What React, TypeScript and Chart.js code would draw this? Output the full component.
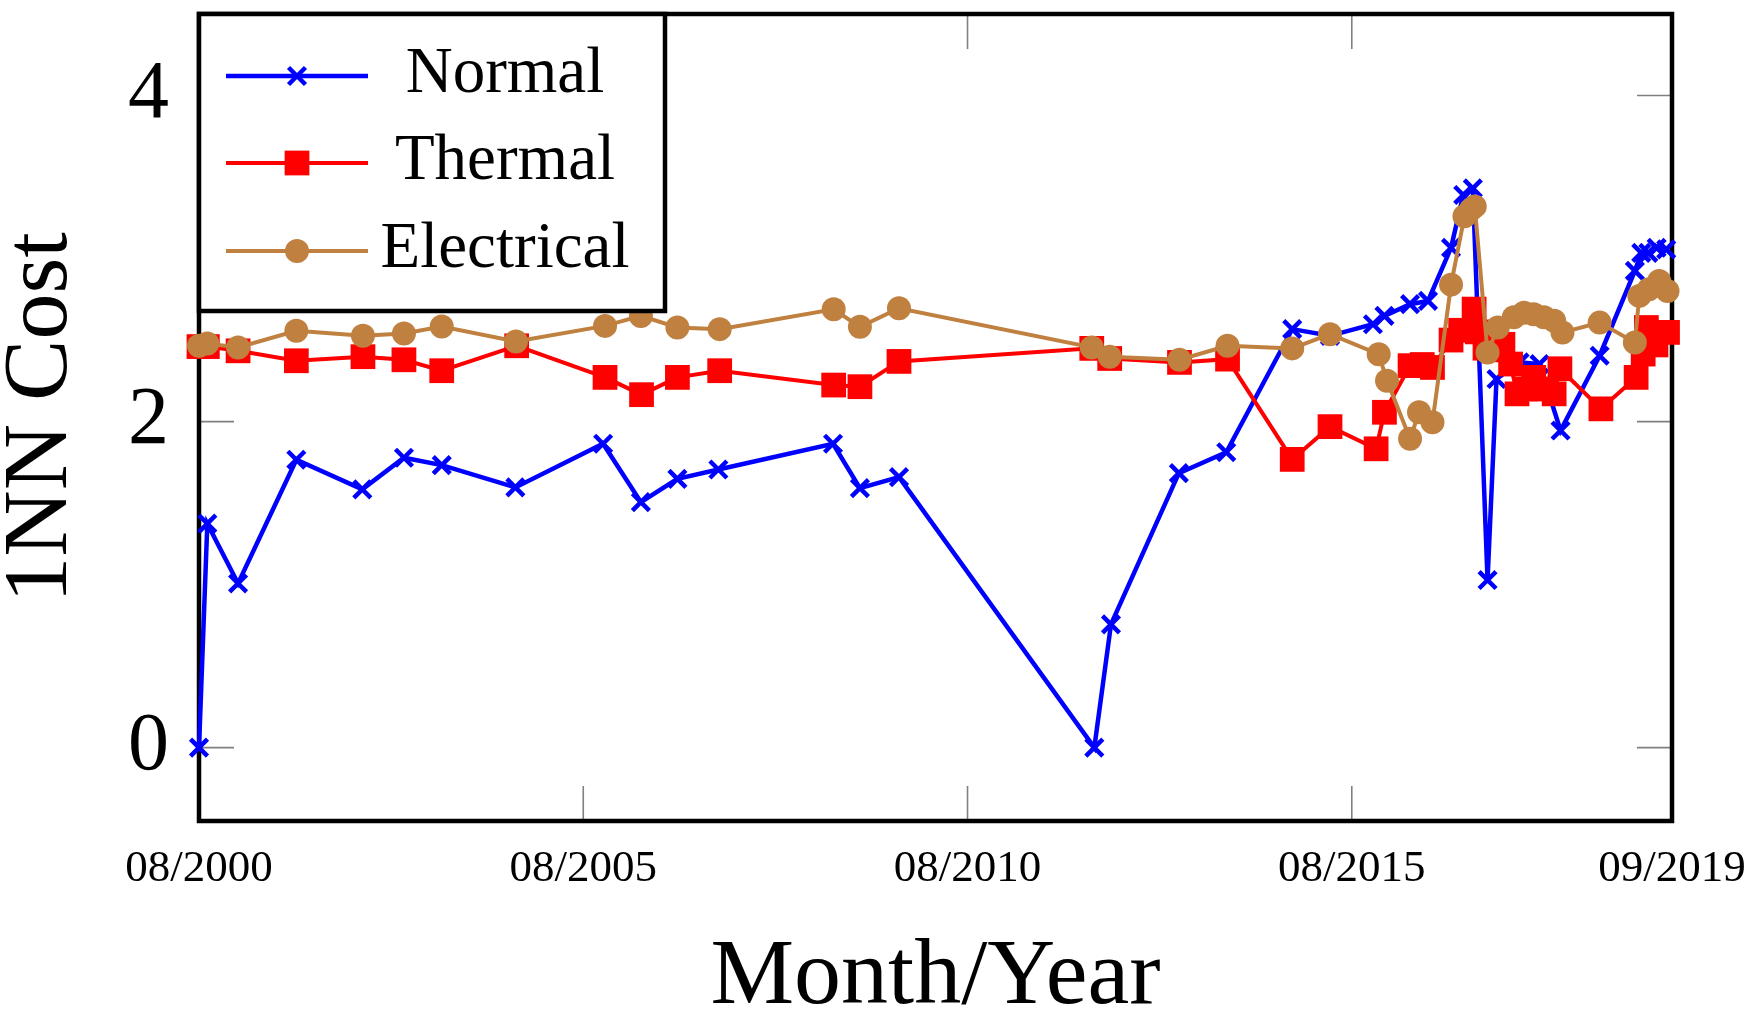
import React, { useEffect, useRef } from "react";
import { Chart, registerables } from "chart.js";

Chart.register(...registerables);

// ---- axis ticks ----
const xTickMonths = [0, 60, 120, 180, 230];
const xTickLabels = ["08/2000", "08/2005", "08/2010", "08/2015", "09/2019"];
const yTicks = [0, 2, 4];

// ---- series (x = months since 08/2000, y = 1NN cost) ----
const normalMonths = [
  0, 1.3, 6.1, 15.2, 25.5, 32.0, 37.9, 49.4, 63.1, 69.0, 74.7, 81.1, 99.0, 103.2, 109.3,
  139.8, 142.4, 153.0, 160.4, 170.7, 176.6, 183.3, 185.1, 189.1, 191.9, 195.5, 197.4, 198.9,
  201.2, 202.6, 206.2, 209.3, 212.6, 218.7, 224.2, 225.2, 226.3, 227.6, 229.1,
];
const normalCost = [
  0, 1.374, 1.007, 1.766, 1.584, 1.778, 1.733, 1.596, 1.864, 1.506, 1.649, 1.706, 1.864, 1.592, 1.659,
  0, 0.756, 1.684, 1.812, 2.567, 2.526, 2.597, 2.648, 2.72, 2.74, 3.066, 3.39, 3.43,
  1.028, 2.261, 2.363, 2.353, 1.945, 2.404, 2.924, 3.035, 3.035, 3.066, 3.056,
];

const thermalMonths = [
  0, 1.3, 6.1, 15.2, 25.6, 32.0, 37.9, 49.6, 63.4, 69.1, 74.7, 81.3, 99.1, 103.2, 109.3,
  139.4, 142.2, 153.1, 160.6, 170.7, 176.6, 183.8, 185.1, 189.1, 191.0, 192.6, 195.5, 197.0,
  199.1, 199.6, 200.8, 202.0, 203.6, 204.8, 205.8, 207.2, 208.4, 209.8, 211.6, 212.5, 218.9,
  224.4, 225.5, 226.0, 227.5, 229.3,
];
const thermalCost = [
  2.46, 2.46, 2.434, 2.373, 2.398, 2.379, 2.312, 2.465, 2.271, 2.165, 2.271, 2.312, 2.224, 2.214, 2.369,
  2.449, 2.387, 2.363, 2.383, 1.768, 1.969, 1.833, 2.057, 2.343, 2.35, 2.332, 2.5, 2.56,
  2.69, 2.55, 2.45, 2.44, 2.474, 2.353, 2.17, 2.2, 2.271, 2.2, 2.17, 2.324, 2.078,
  2.271, 2.414, 2.577, 2.47, 2.547,
];

const electricalMonths = [
  0, 1.3, 6.1, 15.2, 25.6, 32.0, 37.9, 49.5, 63.4, 69.0, 74.7, 81.3, 99.1, 103.2, 109.3,
  139.4, 142.2, 153.1, 160.6, 170.7, 176.6, 184.2, 185.5, 189.1, 190.5, 192.6, 195.5, 197.6,
  198.6, 199.2, 201.2, 202.8, 205.3, 206.9, 208.4, 210.0, 211.6, 212.9, 218.7, 224.2, 224.9,
  226.4, 228.0, 229.3,
];
const electricalCost = [
  2.465, 2.479, 2.455, 2.557, 2.526, 2.54, 2.583, 2.491, 2.587, 2.648, 2.577, 2.567, 2.689, 2.581, 2.695,
  2.455, 2.398, 2.379, 2.465, 2.449, 2.536, 2.413, 2.251, 1.894, 2.057, 1.996, 2.84, 3.26,
  3.3, 3.32, 2.424, 2.577, 2.64, 2.668, 2.658, 2.64, 2.618, 2.547, 2.607, 2.485, 2.771,
  2.811, 2.862, 2.801,
];

const FONT = "'Liberation Serif', 'Times New Roman', serif";
const BLUE = "#0000ff";
const RED = "#ff0000";
const BROWN = "#bf8040";

const toPoints = (xs: number[], ys: number[]) => xs.map((x, i) => ({ x, y: ys[i] }));

function drawMarker(ctx: CanvasRenderingContext2D, style: string, x: number, y: number, r: number, color: string, bw: number) {
  ctx.save();
  ctx.fillStyle = color;
  ctx.strokeStyle = color;
  ctx.lineWidth = bw;
  if (style === "circle") {
    ctx.beginPath();
    ctx.arc(x, y, r, 0, Math.PI * 2);
    ctx.fill();
  } else if (style === "rect") {
    const s = Math.SQRT1_2 * r;
    ctx.fillRect(x - s, y - s, 2 * s, 2 * s);
  } else {
    const o = Math.SQRT1_2 * r;
    ctx.beginPath();
    ctx.moveTo(x - o, y - o);
    ctx.lineTo(x + o, y + o);
    ctx.moveTo(x - o, y + o);
    ctx.lineTo(x + o, y - o);
    ctx.stroke();
  }
  ctx.restore();
}

const framePlugin = {
  id: "frameAndLegend",
  beforeDatasetsDraw(chart: any) {
    const { ctx, chartArea: a, scales } = chart;
    ctx.save();
    ctx.strokeStyle = "#808080";
    ctx.lineWidth = 1.6;
    const L = 35;
    for (const v of xTickMonths) {
      const px = scales.x.getPixelForValue(v);
      if (px <= a.left + 2 || px >= a.right - 2) continue;
      ctx.beginPath();
      ctx.moveTo(px, a.bottom);
      ctx.lineTo(px, a.bottom - L);
      ctx.moveTo(px, a.top);
      ctx.lineTo(px, a.top + L);
      ctx.stroke();
    }
    for (const v of yTicks) {
      const py = scales.y.getPixelForValue(v);
      ctx.beginPath();
      ctx.moveTo(a.left, py);
      ctx.lineTo(a.left + L, py);
      ctx.moveTo(a.right, py);
      ctx.lineTo(a.right - L, py);
      ctx.stroke();
    }
    ctx.strokeStyle = "#000";
    ctx.lineWidth = 4.5;
    ctx.strokeRect(a.left, a.top, a.right - a.left, a.bottom - a.top);
    ctx.restore();
  },
  afterDraw(chart: any) {
    const { ctx, chartArea: a } = chart;
    const bx = a.left, by = a.top, bw = 466, bh = 297;
    ctx.save();
    ctx.fillStyle = "#fff";
    ctx.fillRect(bx, by, bw, bh);
    ctx.strokeStyle = "#000";
    ctx.lineWidth = 4.5;
    ctx.strokeRect(bx, by, bw, bh);
    const rows = [62, 149, 237];
    chart.data.datasets.forEach((ds: any, i: number) => {
      const ry = by + rows[i];
      ctx.strokeStyle = ds.borderColor;
      ctx.lineWidth = ds.borderWidth;
      ctx.beginPath();
      ctx.moveTo(bx + 27, ry);
      ctx.lineTo(bx + 169, ry);
      ctx.stroke();
      drawMarker(ctx, ds.pointStyle, bx + 98, ry, ds.pointRadius, ds.pointBackgroundColor, ds.pointBorderWidth || 0);
      ctx.fillStyle = "#000";
      ctx.font = `65px ${FONT}`;
      ctx.textAlign = "center";
      ctx.textBaseline = "alphabetic";
      ctx.fillText(ds.label, bx + 306, ry + 16);
    });
    ctx.restore();
  },
};

export default function App() {
  const canvasRef = useRef<HTMLCanvasElement | null>(null);

  useEffect(() => {
    document.body.style.margin = "0";
    const canvas = canvasRef.current;
    if (!canvas) return;
    const chart = new Chart(canvas, {
      type: "line",
      data: {
        datasets: [
          {
            label: "Normal",
            data: toPoints(normalMonths, normalCost),
            borderColor: BLUE,
            backgroundColor: BLUE,
            borderWidth: 4.5,
            pointStyle: "crossRot",
            pointRadius: 12,
            pointBorderWidth: 4.5,
            pointBackgroundColor: BLUE,
            pointBorderColor: BLUE,
            tension: 0,
            order: 3,
            clip: false,
          } as any,
          {
            label: "Thermal",
            data: toPoints(thermalMonths, thermalCost),
            borderColor: RED,
            backgroundColor: RED,
            borderWidth: 4,
            pointStyle: "rect",
            pointRadius: 17.5,
            pointBorderWidth: 0,
            pointBackgroundColor: RED,
            pointBorderColor: RED,
            tension: 0,
            order: 2,
            clip: false,
          } as any,
          {
            label: "Electrical",
            data: toPoints(electricalMonths, electricalCost),
            borderColor: BROWN,
            backgroundColor: BROWN,
            borderWidth: 4,
            pointStyle: "circle",
            pointRadius: 12,
            pointBorderWidth: 0,
            pointBackgroundColor: BROWN,
            pointBorderColor: BROWN,
            tension: 0,
            order: 1,
            clip: false,
          } as any,
        ],
      },
      options: {
        animation: false,
        responsive: false,
        devicePixelRatio: 1,
        events: [],
        layout: { autoPadding: false, padding: { top: 14, right: 76, left: 0, bottom: 0 } },
        plugins: { legend: { display: false }, tooltip: { enabled: false } },
        scales: {
          x: {
            type: "linear",
            min: 0,
            max: 230,
            afterBuildTicks: (s: any) => {
              s.ticks = xTickMonths.map((v) => ({ value: v }));
            },
            afterFit: (s: any) => {
              s.height = 201;
              s.paddingLeft = 0;
              s.paddingRight = 0;
            },
            grid: { display: false, drawTicks: false },
            border: { display: false },
            ticks: {
              autoSkip: false,
              maxRotation: 0,
              minRotation: 0,
              padding: 21,
              color: "#000",
              font: { family: FONT, size: 45 },
              callback: (v: any) => {
                const i = xTickMonths.indexOf(Number(v));
                return i >= 0 ? xTickLabels[i] : "";
              },
            },
            title: {
              display: true,
              text: "Month/Year",
              color: "#000",
              font: { family: FONT, size: 94, lineHeight: 0.91 },
              padding: { top: 0, bottom: 1 },
            },
          },
          y: {
            type: "linear",
            min: -0.45,
            max: 4.5,
            afterBuildTicks: (s: any) => {
              s.ticks = yTicks.map((v) => ({ value: v }));
            },
            afterFit: (s: any) => {
              s.width = 199;
              s.paddingTop = 0;
              s.paddingBottom = 0;
            },
            grid: { display: false, drawTicks: false },
            border: { display: false },
            ticks: {
              padding: 30,
              color: "#000",
              font: { family: FONT, size: 82, lineHeight: 0.3 },
              callback: (v: any) => String(v),
            },
            title: {
              display: true,
              text: "1NN Cost",
              color: "#000",
              font: { family: FONT, size: 92, lineHeight: 0.91 },
              padding: { top: 0, bottom: 0 },
            },
          },
        },
      },
      plugins: [framePlugin],
    } as any);
    return () => chart.destroy();
  }, []);

  return (
    <div style={{ width: 1748, height: 1022 }}>
      <canvas ref={canvasRef} width={1748} height={1022} style={{ display: "block" }} />
    </div>
  );
}
